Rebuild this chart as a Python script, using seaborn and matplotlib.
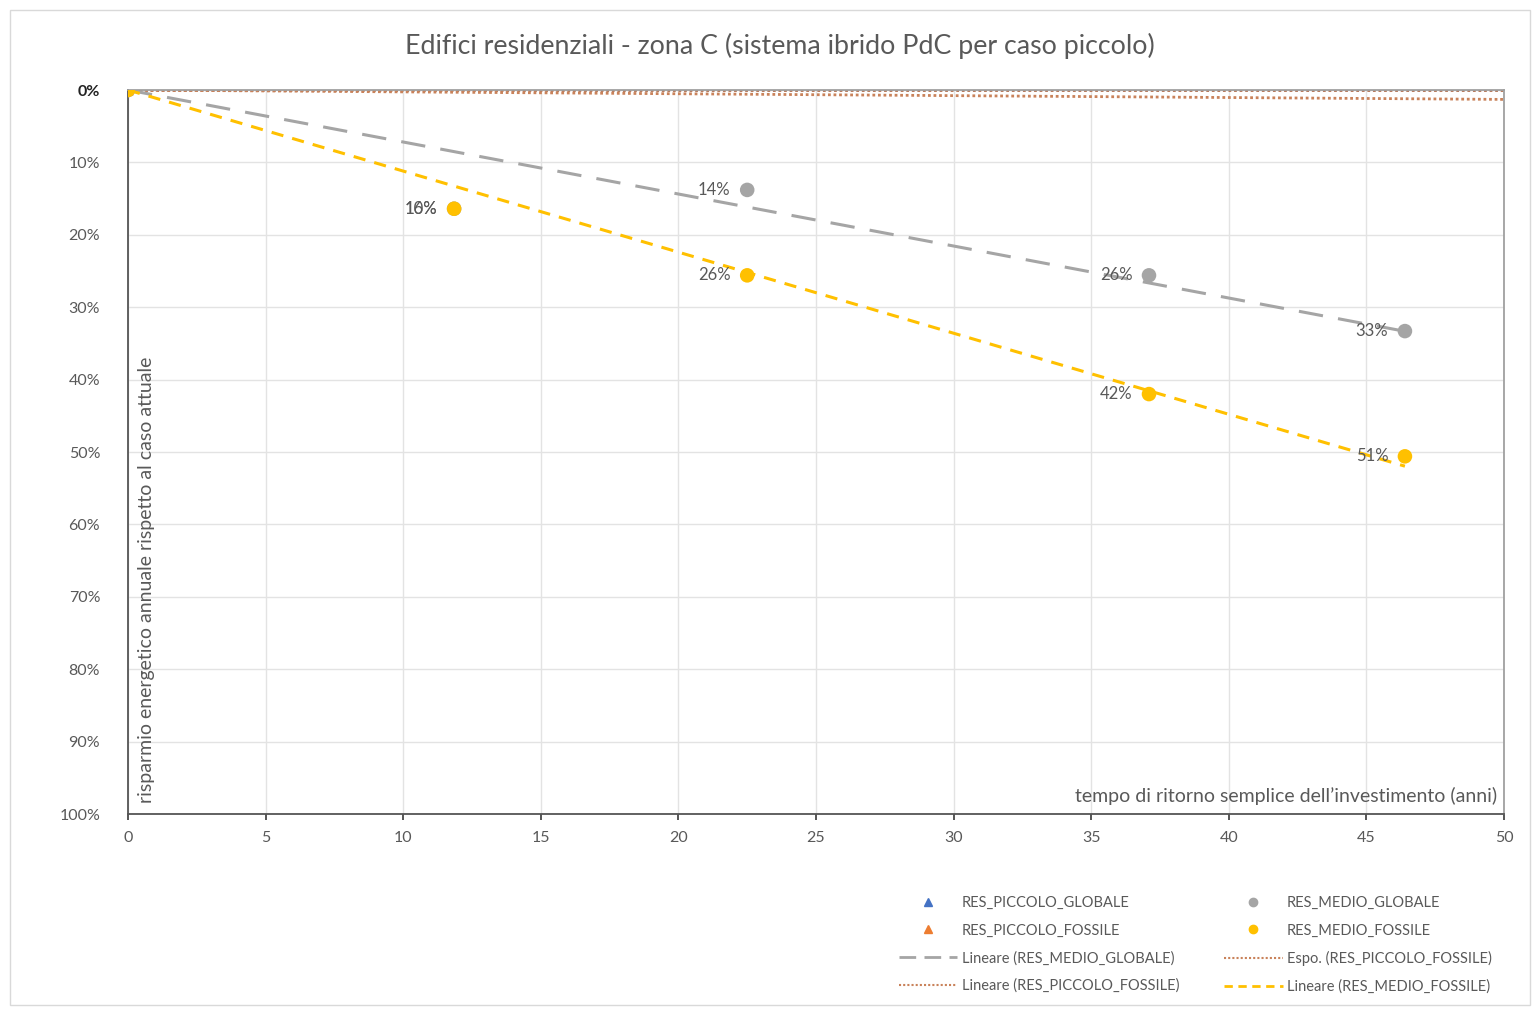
import numpy as np
import pandas as pd
import matplotlib
matplotlib.use("Agg")
import matplotlib.pyplot as plt
import seaborn as sns
from matplotlib.lines import Line2D
from matplotlib.ticker import PercentFormatter

# ---- data ----
medio_globale_x = [0.0, 11.85, 22.5, 37.1, 46.4]
medio_globale_y = [0.0, 0.164, 0.138, 0.256, 0.333]
medio_globale_lbl = ["", "16%", "14%", "26%", "33%"]

medio_fossile_x = [0.0, 11.85, 22.5, 37.1, 46.4]
medio_fossile_y = [0.0, 0.164, 0.256, 0.420, 0.506]
medio_fossile_lbl = ["0%", "10%", "26%", "42%", "51%"]

piccolo_globale_x = [0.0]
piccolo_globale_y = [0.0]
piccolo_fossile_x = [0.0]
piccolo_fossile_y = [0.0]

# trend of RES_PICCOLO_FOSSILE as drawn (start / end of visible range)
piccolo_trend_x = [0.0, 50.0]
piccolo_lin_y = [0.0, 0.0]
piccolo_exp_y = [0.0, 0.013]

x_ticks = [0, 5, 10, 15, 20, 25, 30, 35, 40, 45, 50]
y_ticks = [0.0, 0.1, 0.2, 0.3, 0.4, 0.5, 0.6, 0.7, 0.8, 0.9, 1.0]

title = "Edifici residenziali - zona C (sistema ibrido PdC per caso piccolo)"
xlabel = "tempo di ritorno semplice dell\u2019investimento (anni)"
ylabel = "risparmio energetico annuale rispetto al caso attuale"

# colors
GRAY = "#A5A5A5"
YELLOW = "#FFC000"
ORANGE = "#ED7D31"
BLUE = "#4472C4"
DOT = "#C9825A"
TXT = "#595959"

sns.set_theme(style="white")
plt.rcParams["font.family"] = ["Lato", "DejaVu Sans"]

W, H = 1537, 1009
fig = plt.figure(figsize=(W / 100, H / 100), dpi=100)
ax = fig.add_axes([128 / W, 1 - 814 / H, (1504 - 128) / W, (814 - 90) / H])

# frame around figure
fig.patches.append(plt.Rectangle((10 / W, 4 / H), (1530 - 10) / W, (1005 - 10) / H,
                                 transform=fig.transFigure, fill=False,
                                 edgecolor="#D9D9D9", linewidth=1.0))

# trendlines (least squares through origin)
def fit0(x, y):
    x = np.asarray(x); y = np.asarray(y)
    return (x * y).sum() / (x * x).sum()

tx = np.array([0.0, max(medio_globale_x)])
kg = fit0(medio_globale_x, medio_globale_y)
kf = fit0(medio_fossile_x, medio_fossile_y)

sns.lineplot(x=piccolo_trend_x, y=piccolo_lin_y, ax=ax, color="#B07050",
             linestyle=(0, (1, 1.0)), linewidth=2.0)
sns.lineplot(x=piccolo_trend_x, y=piccolo_exp_y, ax=ax, color=DOT,
             linestyle=(0, (1, 1.0)), linewidth=2.0)
sns.lineplot(x=tx, y=kg * tx, ax=ax, color=GRAY, linestyle=(0, (8, 5)), linewidth=2.2)
sns.lineplot(x=tx, y=kf * tx, ax=ax, color=YELLOW, linestyle=(0, (4, 3)), linewidth=2.2)

# points
sns.scatterplot(x=piccolo_globale_x, y=piccolo_globale_y, ax=ax, marker="^", s=60,
                color=BLUE, edgecolor="none", zorder=4)
sns.scatterplot(x=piccolo_fossile_x, y=piccolo_fossile_y, ax=ax, marker="^", s=60,
                color=ORANGE, edgecolor="none", zorder=4)
sns.scatterplot(x=medio_globale_x, y=medio_globale_y, ax=ax, s=110, color=GRAY,
                edgecolor="none", zorder=5)
sns.scatterplot(x=medio_fossile_x, y=medio_fossile_y, ax=ax, s=110, color=YELLOW,
                edgecolor="none", zorder=6)

for x, y, t in zip(medio_globale_x, medio_globale_y, medio_globale_lbl):
    if t:
        ax.annotate(t, (x, y), xytext=(-12, 0), textcoords="offset points",
                    ha="right", va="center", fontsize=12, color=TXT, zorder=7)
for x, y, t in zip(medio_fossile_x, medio_fossile_y, medio_fossile_lbl):
    if x == 0:
        continue
    ax.annotate(t, (x, y), xytext=(-12, 0), textcoords="offset points",
                ha="right", va="center", fontsize=12, color=TXT, zorder=7)

ax.set_xlim(0, 50)
ax.set_ylim(1.0, 0.0)
ax.set_xticks(x_ticks)
ax.set_yticks(y_ticks)
ax.yaxis.set_major_formatter(PercentFormatter(1.0, decimals=0))
ax.grid(True, color="#E3E3E3", linewidth=1.0)
ax.set_axisbelow(True)
ax.tick_params(axis="both", labelsize=11.5, labelcolor=TXT, length=4, color="#404040")
ax.tick_params(axis="x", pad=8, direction="out", bottom=True)
ax.tick_params(axis="y", pad=16, left=False)
ax.get_yticklabels()[0].set_color("#222222")
ax.get_yticklabels()[0].set_fontweight("bold")

for s in ["left", "bottom"]:
    ax.spines[s].set_color("#555555")
    ax.spines[s].set_linewidth(1.3)
for s in ["top", "right"]:
    ax.spines[s].set_color("#A0A0A0")
    ax.spines[s].set_linewidth(1.3)

ax.set_xlabel("")
ax.set_ylabel("")
ax.text(0.995, 0.025, xlabel, transform=ax.transAxes, ha="right", va="center",
        fontsize=14, color=TXT)
ax.text(0.0135, 0.015, ylabel, transform=ax.transAxes, ha="center", va="bottom",
        rotation=90, fontsize=14, color=TXT)

fig.text(780 / W, 1 - 46 / H, title, ha="center", va="center", fontsize=19.3, color=TXT)

handles = [
    Line2D([], [], marker="^", color=BLUE, linestyle="none", markersize=6),
    Line2D([], [], marker="^", color=ORANGE, linestyle="none", markersize=6),
    Line2D([], [], color=GRAY, linestyle=(0, (6, 3)), linewidth=2),
    Line2D([], [], color=DOT, linestyle=(0, (1, 1)), linewidth=1.5),
    Line2D([], [], marker="o", color=GRAY, linestyle="none", markersize=6),
    Line2D([], [], marker="o", color=YELLOW, linestyle="none", markersize=6),
    Line2D([], [], color=DOT, linestyle=(0, (1, 1)), linewidth=1.5),
    Line2D([], [], color=YELLOW, linestyle=(0, (3, 2)), linewidth=2),
]
labels = [
    "RES_PICCOLO_GLOBALE", "RES_PICCOLO_FOSSILE",
    "Lineare (RES_MEDIO_GLOBALE)", "Lineare (RES_PICCOLO_FOSSILE)",
    "RES_MEDIO_GLOBALE", "RES_MEDIO_FOSSILE",
    "Espo. (RES_PICCOLO_FOSSILE)", "Lineare (RES_MEDIO_FOSSILE)",
]
leg = fig.legend(handles, labels, ncol=2, loc="upper left",
                 bbox_to_anchor=(893 / W, 1 - 890 / H), frameon=False,
                 fontsize=10.5, handlelength=4.0, handletextpad=0.3,
                 columnspacing=3.1, labelspacing=0.93, borderaxespad=0)
for t in leg.get_texts():
    t.set_color(TXT)

fig.savefig("out.png", dpi=100, facecolor="white")
